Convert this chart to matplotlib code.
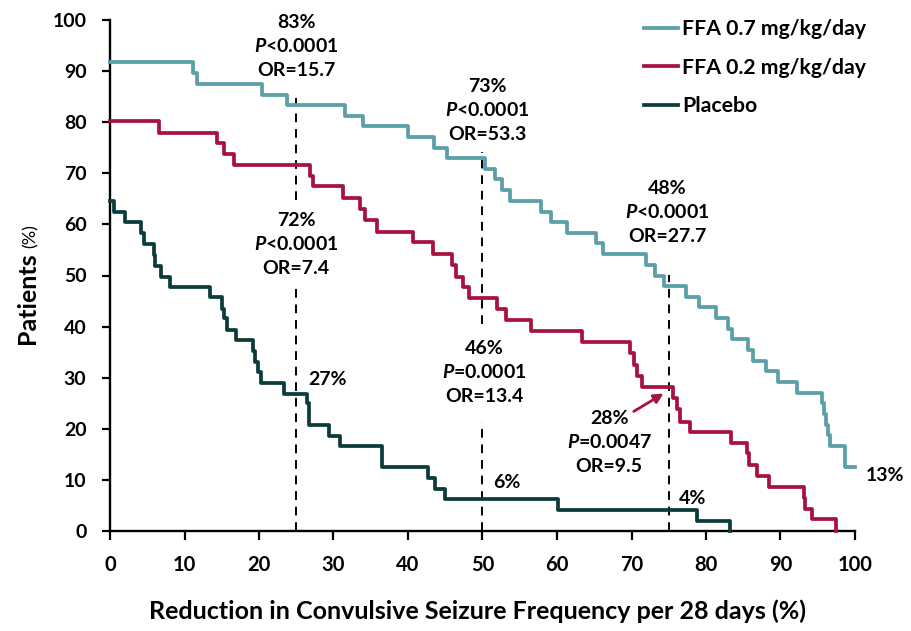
import matplotlib
matplotlib.use("Agg")
import matplotlib.pyplot as plt

plt.rcParams['font.family'] = ['Lato', 'DejaVu Sans']
plt.rcParams['font.weight'] = 'bold'
plt.rcParams['mathtext.fontset'] = 'custom'
plt.rcParams['mathtext.it'] = 'Lato:italic:bold'
plt.rcParams['mathtext.rm'] = 'Lato:bold'

# step curves: reduction (%) where the level drops, and the new level (% of patients)
ffa07_start = 91.7
ffa07_x = [11.1, 11.7, 20.4, 23.8, 31.6, 34.0, 40.0, 43.5, 45.2, 50.3,
           51.7, 52.6, 53.7, 57.8, 59.2, 61.3, 65.3, 66.2, 72.0, 73.2,
           74.4, 77.3, 79.0, 81.4, 83.0, 83.5, 85.7, 86.3, 88.1, 89.7,
           92.2, 95.6, 95.8, 96.1, 96.4, 96.7, 98.7, 100.0]
ffa07_y = [89.6, 87.5, 85.4, 83.3, 81.3, 79.2, 77.1, 75.0, 72.9, 70.8,
           68.8, 66.7, 64.6, 62.5, 60.4, 58.3, 56.3, 54.2, 52.1, 50.0,
           47.9, 45.8, 43.8, 41.7, 39.6, 37.5, 35.4, 33.3, 31.3, 29.2,
           27.1, 25.0, 22.9, 20.8, 18.8, 16.7, 12.5, 12.5]

ffa02_start = 80.3
ffa02_x = [6.6, 14.3, 15.3, 16.6, 26.8, 27.3, 31.3, 33.6, 34.2, 35.8,
           40.7, 43.4, 45.9, 46.5, 47.4, 48.2, 51.9, 53.2, 56.5, 63.3,
           69.8, 70.3, 70.7, 71.4, 75.6, 76.1, 76.5, 77.8, 83.3, 85.5,
           85.8, 86.8, 88.5, 93.1, 93.3, 94.2, 97.5]
ffa02_y = [77.9, 76.0, 73.7, 71.6, 69.5, 67.6, 65.1, 63.1, 60.9, 58.6,
           56.6, 54.3, 52.1, 49.8, 47.8, 45.5, 43.4, 41.2, 39.1, 37.0,
           34.8, 32.5, 30.3, 28.1, 26.0, 23.8, 21.4, 19.3, 17.3, 15.2,
           12.9, 10.8, 8.6, 6.4, 4.4, 2.3, 0.0]

placebo_start = 64.6
placebo_x = [0.5, 2.0, 4.1, 4.6, 5.9, 6.1, 6.9, 8.0, 13.4, 15.1,
             15.3, 15.7, 16.9, 19.2, 19.5, 19.9, 20.3, 23.4, 26.5, 26.7,
             29.4, 30.9, 36.5, 42.7, 43.6, 45.0, 60.2, 78.8, 83.2]
placebo_y = [62.5, 60.4, 58.3, 56.2, 54.0, 51.9, 49.8, 47.7, 45.7, 43.5,
             41.6, 39.4, 37.4, 35.3, 33.1, 31.2, 29.0, 26.9, 25.0, 20.8,
             18.6, 16.6, 12.5, 10.3, 8.2, 6.2, 4.1, 2.0, 0.0]

series_names = ['FFA 0.7 mg/kg/day', 'FFA 0.2 mg/kg/day', 'Placebo']
colors = ['#5B9FA8', '#A8123F', '#0C3B3B']

# dashed reference lines at 25 / 50 / 75 % reduction (x, y from, y to)
ref_lines = [(25, 0, 47.8), (25, 64.8, 85.8),
             (50, 0, 21.4), (50, 40.6, 74.2),
             (75, 0, 50.1)]

# three-line annotations: (x, first baseline y, lines)
blocks = [
    (25.0, 98.4, ['83%', '$P$<0.0001', 'OR=15.7']),
    (50.6, 85.9, ['73%', '$P$<0.0001', 'OR=53.3']),
    (74.8, 65.9, ['48%', '$P$<0.0001', 'OR=27.7']),
    (25.0, 59.7, ['72%', '$P$<0.0001', 'OR=7.4']),
    (50.2, 34.6, ['46%', '$P$=0.0001', 'OR=13.4']),
    (67.0, 21.0, ['28%', '$P$=0.0047', 'OR=9.5']),
]
singles = [(26.6, 28.6, '27%'), (51.4, 8.4, '6%'), (76.4, 5.3, '4%'), (101.5, 9.8, '13%')]

fig = plt.figure(figsize=(9.12, 6.31), dpi=100)
ax = fig.add_axes([110/912, 100/631, 745/912, 511/631])

for start, xs, ys, name, c in zip([ffa07_start, ffa02_start, placebo_start],
                                  [ffa07_x, ffa02_x, placebo_x],
                                  [ffa07_y, ffa02_y, placebo_y],
                                  series_names, colors):
    ax.step([0] + xs, [start] + ys, where='post', color=c, lw=2.7,
            label=name, clip_on=False, zorder=3)

for x, y0, y1 in ref_lines:
    ax.plot([x, x], [y0, y1], color='black', lw=1.4, ls=(0, (4.5, 3.5)), zorder=2)

for x, y, lines in blocks:
    for i, s in enumerate(lines):
        ax.text(x, y - i * 4.7, s, ha='center', va='baseline', fontsize=14,
                fontweight='bold', color='black')
for x, y, s in singles:
    ax.text(x, y, s, ha='left', va='baseline', fontsize=14, fontweight='bold',
            color='black')

# arrow pointing to the 28% value
ax.annotate('', xy=(74.3, 26.9), xytext=(70.3, 23.4),
            arrowprops=dict(arrowstyle='-|>', color=colors[1], lw=2,
                            mutation_scale=14, shrinkA=0, shrinkB=0))

ax.set_xlim(0, 100)
ax.set_ylim(0, 100)
ax.set_xticks(range(0, 101, 10))
ax.set_yticks(range(0, 101, 10))
ax.spines['top'].set_visible(False)
ax.spines['right'].set_visible(False)
for sp in ['left', 'bottom']:
    ax.spines[sp].set_linewidth(1.7)
ax.tick_params(axis='x', direction='out', length=6.5, width=1.6, pad=10.5, labelsize=14.5)
ax.tick_params(axis='y', direction='out', length=6, width=1.6, pad=11, labelsize=14)
for lab in ax.get_xticklabels() + ax.get_yticklabels():
    lab.set_fontweight('bold')

fig.text(478/912, 1 - 611/631, 'Reduction in Convulsive Seizure Frequency per 28 days (%)',
         ha='center', va='center', fontsize=18, fontweight='bold')
fig.text(28/912, 1 - 298/631, 'Patients', rotation=90, ha='center', va='center',
         fontsize=18, fontweight='bold')
fig.text(31/912, 1 - 236/631, '(%)', rotation=90, ha='center', va='center',
         fontsize=13, fontweight='normal')

ax.legend(loc='upper left', bbox_to_anchor=(644/912, 1 - 19/631),
          bbox_transform=fig.transFigure, frameon=False, fontsize=15.3,
          handlelength=1.6, handletextpad=0.2, labelspacing=0.88, borderpad=0,
          borderaxespad=0)

fig.savefig('out.png', dpi=100)
